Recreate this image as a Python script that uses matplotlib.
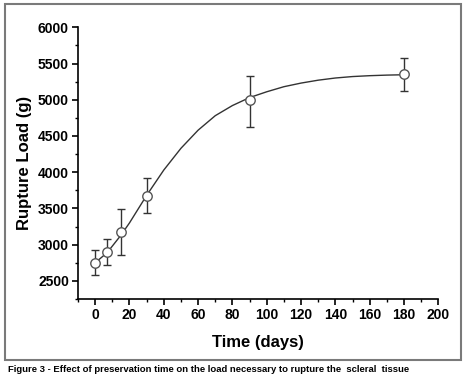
import matplotlib.pyplot as plt
import numpy as np

# measured points (time in days, rupture load in g)
days = [0, 7, 15, 30, 90, 180]
load = [2753, 2900, 3172, 3676, 4990, 5350]
err_lo = [165, 185, 320, 245, 360, 225]
err_hi = [180, 180, 320, 245, 340, 220]

# fitted curve
fit_days = [0, 7, 15, 20, 30, 40, 50, 60, 70, 80, 90, 100, 110, 120, 130, 140, 150, 160, 170, 180]
fit_load = [2750, 2890, 3130, 3300, 3680, 4030, 4330, 4580, 4780, 4920, 5030, 5110, 5180,
            5230, 5270, 5300, 5320, 5332, 5340, 5345]

x_ticks = list(range(0, 201, 20))
y_ticks = list(range(2500, 6001, 500))

plt.rcParams['font.family'] = ['Liberation Sans', 'DejaVu Sans']
plt.rcParams['font.weight'] = 'bold'

fig = plt.figure(figsize=(4.66, 3.79), dpi=100)
ax = fig.add_axes([0.1674, 0.2111, 0.7732, 0.7169])

ax.plot(fit_days, fit_load, color='#333333', lw=1.0, zorder=2)
ax.errorbar(days, load, yerr=[err_lo, err_hi], fmt='none', ecolor='#333333',
            elinewidth=1.0, capsize=2.6, capthick=1.0, zorder=3)
ax.plot(days, load, 'o', ms=6.8, mfc='white', mec='#555555', mew=1.0, zorder=4)

ax.set_xlim(-10, 200)
ax.set_ylim(2250, 6000)
ax.set_xticks(x_ticks)
ax.set_yticks(y_ticks)
ax.set_xticks(np.arange(-10, 201, 10), minor=True)
ax.set_yticks(np.arange(2250, 6001, 250), minor=True)
ax.tick_params(which='major', direction='out', length=4.5, width=1.2, labelsize=10, pad=2)
ax.tick_params(which='minor', direction='out', length=2.5, width=1.0)
for lab in ax.get_xticklabels() + ax.get_yticklabels():
    lab.set_fontweight('bold')

for s in ['top', 'right']:
    ax.spines[s].set_visible(False)
for s in ['left', 'bottom']:
    ax.spines[s].set_linewidth(1.2)

ax.set_xlabel('Time (days)', fontsize=12, fontweight='bold', labelpad=9)
ax.set_ylabel('Rupture Load (g)', fontsize=12, fontweight='bold', labelpad=4)

# outer frame and caption
frame = plt.Rectangle((5 / 466, 1 - 360 / 379), 456 / 466, 356 / 379, transform=fig.transFigure,
                      fill=False, ec='#7a7a7a', lw=1.5)
fig.add_artist(frame)
fig.text(8 / 466, 1 - 369 / 379, 'Figure 3 - Effect of preservation time on the load necessary to rupture the  scleral  tissue',
         fontsize=6.8, fontweight='bold', va='center', ha='left')

fig.savefig('out.png', dpi=100)
